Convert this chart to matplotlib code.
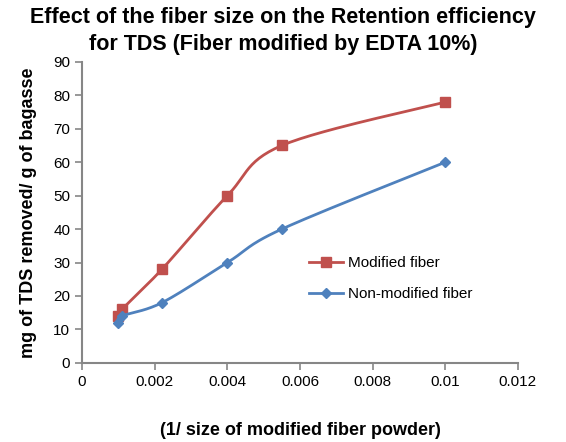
import matplotlib.pyplot as plt
import numpy as np

plt.rcParams['font.family'] = ['Liberation Sans', 'DejaVu Sans']

# Данні з графіка
x_vals = [0.001, 0.0011, 0.0022, 0.004, 0.0055, 0.01]
modified = [14, 16, 28, 50, 65, 78]
x_non = [0.001, 0.0011, 0.0022, 0.004, 0.0055, 0.01]
non_modified = [12, 14, 18, 30, 40, 60]
x_ticks = [0, 0.002, 0.004, 0.006, 0.008, 0.01, 0.012]
x_tick_labels = ['0', '0.002', '0.004', '0.006', '0.008', '0.01', '0.012']
y_ticks = list(range(0, 91, 10))


# Згладжена лінія як в Excel (Catmull-Rom)
def smooth(xs, ys, n=30):
    px = np.array(xs, dtype=float)
    py = np.array(ys, dtype=float)
    px = np.concatenate([[px[0]], px, [px[-1]]])
    py = np.concatenate([[py[0]], py, [py[-1]]])
    out_x, out_y = [], []
    for i in range(1, len(px) - 2):
        p0, p1, p2, p3 = [np.array([px[j], py[j]]) for j in range(i - 1, i + 3)]
        c1 = p1 + (p2 - p0) / 6
        c2 = p2 - (p3 - p1) / 6
        t = np.linspace(0, 1, n)[:, None]
        b = (1 - t) ** 3 * p1 + 3 * (1 - t) ** 2 * t * c1 + 3 * (1 - t) * t ** 2 * c2 + t ** 3 * p2
        out_x.extend(b[:, 0])
        out_y.extend(b[:, 1])
    return out_x, out_y


red = '#C0504D'
blue = '#4F81BD'
grey = '#868686'

fig = plt.figure(figsize=(5.66, 4.42), dpi=100)
ax = fig.add_axes([0.145, 0.179, 0.77, 0.681])

sx, sy = smooth(x_vals, modified)
ax.plot(sx, sy, color=red, lw=2)
ax.plot(x_vals, modified, 's', color=red, ms=7)
sx, sy = smooth(x_non, non_modified)
ax.plot(sx, sy, color=blue, lw=2)
ax.plot(x_non, non_modified, 'D', color=blue, ms=5)

# легенда
ax.plot([], [], color=red, lw=2, marker='s', ms=7, label='Modified fiber')
ax.plot([], [], color=blue, lw=2, marker='D', ms=5, label='Non-modified fiber')
h, l = ax.get_legend_handles_labels()
ax.legend(h, l, loc='upper left', bbox_to_anchor=(0.49, 0.4), frameon=False,
          fontsize=11, handlelength=2.2, handletextpad=0.3, labelspacing=1.1)

ax.set_xlim(0, 0.012)
ax.set_ylim(0, 90)
ax.set_xticks(x_ticks)
ax.set_xticklabels(x_tick_labels)
ax.set_yticks(y_ticks)
ax.tick_params(labelsize=11, color=grey, length=5, width=1.2)
for s in ['top', 'right']:
    ax.spines[s].set_visible(False)
for s in ['left', 'bottom']:
    ax.spines[s].set_color(grey)
    ax.spines[s].set_linewidth(1.5)

fig.suptitle('Effect of the fiber size on the Retention efficiency\nfor TDS (Fiber modified by EDTA 10%)',
             fontsize=15.5, fontweight='bold', y=0.985, linespacing=1.4)
ax.set_xlabel('(1/ size of modified fiber powder)', fontsize=13, fontweight='bold', labelpad=24)
ax.set_ylabel('mg of TDS removed/ g of bagasse', fontsize=13, fontweight='bold', labelpad=12)

fig.savefig('out.png', dpi=100)
